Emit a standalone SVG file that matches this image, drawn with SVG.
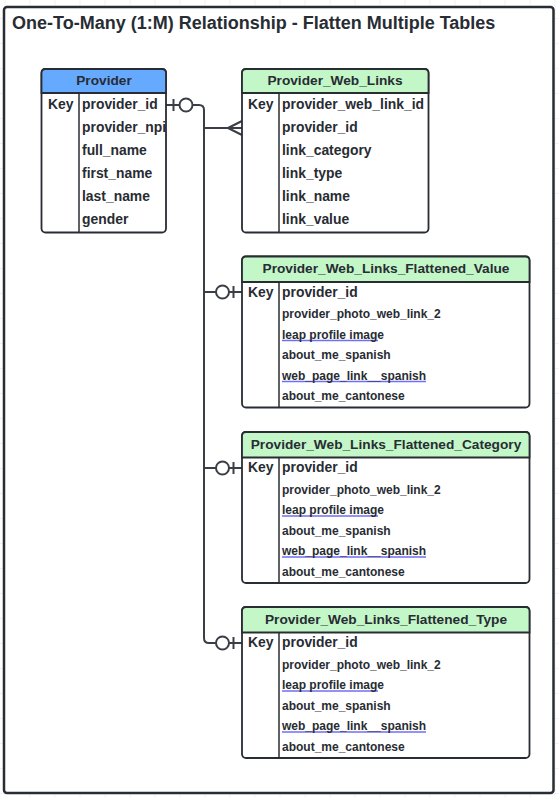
<svg xmlns="http://www.w3.org/2000/svg" width="559" height="797" viewBox="0 0 559 797">
<defs>
<pattern id="grid" x="4.5" y="18" width="25" height="25" patternUnits="userSpaceOnUse">
<path d="M0 0 H25 M0 0 V25" fill="none" stroke="#e3e3e3" stroke-width="1"/>
</pattern>
</defs>
<style>
text{font-family:"Liberation Sans",Arial,sans-serif;font-weight:bold;fill:#282c33}
.title{font-size:18px}
.hd{font-size:13.7px;text-anchor:middle}
.f{font-size:13.9px}
.s{font-size:12px}
.box{fill:#fff;stroke:#282c33;stroke-width:1.8}
.line{fill:none;stroke:#282c33;stroke-width:1.5}
.ul{stroke:#6f6ff5;stroke-width:1.4}
.conn{fill:none;stroke:#3a3f47;stroke-width:2}
.ring{fill:#fff;stroke:#3a3f47;stroke-width:2}
</style>
<rect width="559" height="797" fill="#fff"/>
<rect width="559" height="797" fill="url(#grid)"/>
<rect x="4" y="7" width="549.5" height="786" rx="3" fill="#fff" stroke="#282c33" stroke-width="2.5"/>
<text class="title" x="12" y="29">One-To-Many (1:M) Relationship - Flatten Multiple Tables</text>

<g id="connectors">
<path class="conn" d="M166 105 H199 Q204 105 204 110 V638 Q204 643 209 643 H242"/>
<path class="conn" d="M204 128 H242 M228 128 L242 121 M228 128 L242 135"/>
<path class="conn" d="M204 292 H242"/>
<path class="conn" d="M204 468 H242"/>
<line class="conn" x1="173.5" y1="99" x2="173.5" y2="111"/>
<circle class="ring" cx="186" cy="105" r="6.5"/>
<circle class="ring" cx="222.5" cy="292" r="6.5"/>
<line class="conn" x1="233.5" y1="286" x2="233.5" y2="298"/>
<circle class="ring" cx="222.5" cy="468" r="6.5"/>
<line class="conn" x1="233.5" y1="462" x2="233.5" y2="474"/>
<circle class="ring" cx="222.5" cy="643" r="6.5"/>
<line class="conn" x1="233.5" y1="637" x2="233.5" y2="649"/>
</g>

<g id="provider">
<rect class="box" x="41.5" y="69" width="124.5" height="163.5" rx="4"/>
<path d="M45.5 69 H162 Q166 69 166 73 V93 H41.5 V73 Q41.5 69 45.5 69 Z" fill="#66aaff" stroke="#282c33" stroke-width="1.8"/>
<line class="line" x1="79" y1="93" x2="79" y2="232.5"/>
<text class="hd" x="104" y="85">Provider</text>
<text class="f" x="48" y="109">Key</text>
<text class="f" x="82" y="109">provider_id</text>
<text class="f" x="82" y="132">provider_npi</text>
<text class="f" x="82" y="155">full_name</text>
<text class="f" x="82" y="178">first_name</text>
<text class="f" x="82" y="201">last_name</text>
<text class="f" x="82" y="224">gender</text>
</g>

<g id="provider_web_links">
<rect class="box" x="242" y="69" width="186.5" height="163.5" rx="4"/>
<path d="M246 69 H424.5 Q428.5 69 428.5 73 V93 H242 V73 Q242 69 246 69 Z" fill="#c3f7c8" stroke="#282c33" stroke-width="1.8"/>
<line class="line" x1="279" y1="93" x2="279" y2="232.5"/>
<text class="hd" x="335" y="85">Provider_Web_Links</text>
<text class="f" x="248" y="109">Key</text>
<text class="f" x="282" y="109">provider_web_link_id</text>
<text class="f" x="282" y="132">provider_id</text>
<text class="f" x="282" y="155">link_category</text>
<text class="f" x="282" y="178">link_type</text>
<text class="f" x="282" y="201">link_name</text>
<text class="f" x="282" y="224">link_value</text>
</g>

<g id="flattened_value">
<rect class="box" x="242" y="256.5" width="287.5" height="151" rx="4"/>
<path d="M246 256.5 H525.5 Q529.5 256.5 529.5 260.5 V282 H242 V260.5 Q242 256.5 246 256.5 Z" fill="#c3f7c8" stroke="#282c33" stroke-width="1.8"/>
<line class="line" x1="279" y1="282" x2="279" y2="407.5"/>
<text class="hd" x="386" y="273">Provider_Web_Links_Flattened_Value</text>
<text class="f" x="248" y="296.5">Key</text>
<text class="f" x="282" y="296.5">provider_id</text>
<text class="s" x="282" y="318">provider_photo_web_link_2</text>
<line class="ul" x1="282" y1="340.5" x2="378" y2="340.5"/>
<text class="s" x="282" y="338.5">leap profile image</text>
<text class="s" x="282" y="359">about_me_spanish</text>
<line class="ul" x1="282" y1="381.5" x2="426" y2="381.5"/>
<text class="s" x="282" y="379.5">web_page_link__spanish</text>
<text class="s" x="282" y="400">about_me_cantonese</text>
</g>

<g id="flattened_category">
<rect class="box" x="242" y="432" width="287.5" height="151" rx="4"/>
<path d="M246 432 H525.5 Q529.5 432 529.5 436 V457.5 H242 V436 Q242 432 246 432 Z" fill="#c3f7c8" stroke="#282c33" stroke-width="1.8"/>
<line class="line" x1="279" y1="457.5" x2="279" y2="583"/>
<text class="hd" x="386" y="448.5">Provider_Web_Links_Flattened_Category</text>
<text class="f" x="248" y="472">Key</text>
<text class="f" x="282" y="472">provider_id</text>
<text class="s" x="282" y="493.5">provider_photo_web_link_2</text>
<line class="ul" x1="282" y1="516" x2="378" y2="516"/>
<text class="s" x="282" y="514">leap profile image</text>
<text class="s" x="282" y="534.5">about_me_spanish</text>
<line class="ul" x1="282" y1="557" x2="426" y2="557"/>
<text class="s" x="282" y="555">web_page_link__spanish</text>
<text class="s" x="282" y="575.5">about_me_cantonese</text>
</g>

<g id="flattened_type">
<rect class="box" x="242" y="607" width="287.5" height="151" rx="4"/>
<path d="M246 607 H525.5 Q529.5 607 529.5 611 V632.5 H242 V611 Q242 607 246 607 Z" fill="#c3f7c8" stroke="#282c33" stroke-width="1.8"/>
<line class="line" x1="279" y1="632.5" x2="279" y2="758"/>
<text class="hd" x="386" y="623.5">Provider_Web_Links_Flattened_Type</text>
<text class="f" x="248" y="647">Key</text>
<text class="f" x="282" y="647">provider_id</text>
<text class="s" x="282" y="668.5">provider_photo_web_link_2</text>
<line class="ul" x1="282" y1="691" x2="378" y2="691"/>
<text class="s" x="282" y="689">leap profile image</text>
<text class="s" x="282" y="709.5">about_me_spanish</text>
<line class="ul" x1="282" y1="732" x2="426" y2="732"/>
<text class="s" x="282" y="730">web_page_link__spanish</text>
<text class="s" x="282" y="750.5">about_me_cantonese</text>
</g>
</svg>
